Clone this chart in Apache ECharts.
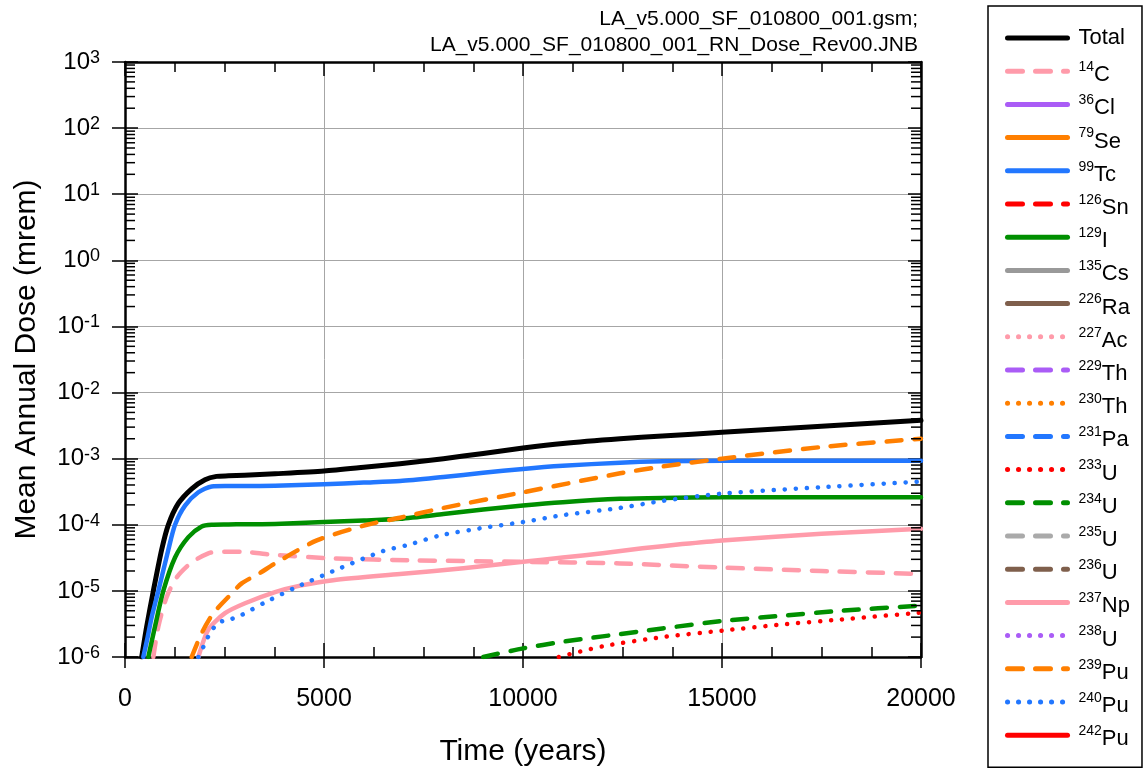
<!DOCTYPE html>
<html>
<head>
<meta charset="utf-8">
<script src="https://cdn.jsdelivr.net/npm/echarts@6/dist/echarts.min.js"></script>
<style>
html, body { margin: 0; padding: 0; background: #fff; }
#chart { width: 1143px; height: 771px; }
</style>
</head>
<body>
<div id="chart"></div>
<script>
// values: time (years) and mean annual dose (mrem)
var totalT = [420, 545, 712, 921, 1089, 1340, 1675, 2010, 2300, 2600, 3000, 3770, 5000, 6000, 6910, 8000, 9000, 10000, 11000, 12440, 13500, 15000, 17500, 20000];
var totalV = [1e-6, 2.9e-6, 1e-5, 4.2e-5, 1e-4, 2.1e-4, 3.5e-4, 4.8e-4, 5.4e-4, 5.5e-4, 5.6e-4, 5.9e-4, 6.5e-4, 7.4e-4, 8.4e-4, 1e-3, 1.2e-3, 1.45e-3, 1.7e-3, 2e-3, 2.2e-3, 2.5e-3, 3.1e-3, 3.8e-3];
var c14T = [712, 838, 1047, 1298, 1675, 2094, 2345, 2930, 3770, 5230, 7250, 10000, 12440, 15000, 17500, 20000];
var c14V = [1e-6, 2.9e-6, 8.1e-6, 1.6e-5, 2.7e-5, 3.7e-5, 3.9e-5, 3.9e-5, 3.5e-5, 3.1e-5, 2.9e-5, 2.75e-5, 2.6e-5, 2.25e-5, 2e-5, 1.8e-5];
var tc99T = [460, 570, 670, 838, 1089, 1257, 1508, 1843, 2178, 2513, 3000, 3770, 5000, 6000, 6910, 8000, 9000, 10000, 11000, 12440, 13500, 15000, 17500, 20000];
var tc99V = [1e-6, 2e-6, 4e-6, 1e-5, 4.2e-5, 1e-4, 1.95e-4, 3.1e-4, 3.8e-4, 3.85e-4, 3.85e-4, 3.9e-4, 4.1e-4, 4.35e-4, 4.6e-4, 5.3e-4, 6.1e-4, 7e-4, 7.8e-4, 8.7e-4, 9.1e-4, 9.3e-4, 9.3e-4, 9.3e-4];
var i129T = [586, 754, 963, 1257, 1592, 1927, 2178, 2600, 3000, 3770, 5000, 6000, 6910, 8000, 9000, 10000, 11000, 12440, 13500, 15000, 17500, 20000];
var i129V = [1e-6, 2.9e-6, 1e-5, 3.2e-5, 6.5e-5, 9.4e-5, 1e-4, 1.01e-4, 1.02e-4, 1.03e-4, 1.1e-4, 1.16e-4, 1.23e-4, 1.45e-4, 1.7e-4, 1.96e-4, 2.2e-4, 2.47e-4, 2.55e-4, 2.6e-4, 2.6e-4, 2.6e-4];
var u233T = [10900, 12000, 13500, 15000, 16500, 18000, 20000];
var u233V = [1e-6, 1.45e-6, 2e-6, 2.5e-6, 3.1e-6, 3.7e-6, 4.7e-6];
var u234T = [9000, 10000, 11000, 12000, 13500, 15000, 16500, 18000, 20000];
var u234V = [1e-6, 1.35e-6, 1.7e-6, 2.05e-6, 2.7e-6, 3.5e-6, 4.2e-6, 5e-6, 6e-6];
var np237T = [1843, 2094, 2513, 3016, 3770, 4400, 5230, 6910, 8500, 10000, 11000, 12000, 13000, 14000, 15000, 17500, 20000];
var np237V = [1e-6, 2.6e-6, 4.6e-6, 6.5e-6, 9.6e-6, 1.2e-5, 1.45e-5, 1.8e-5, 2.2e-5, 2.75e-5, 3.2e-5, 3.7e-5, 4.4e-5, 5.1e-5, 5.8e-5, 7.3e-5, 8.7e-5];
var pu239T = [1675, 1927, 2220, 2597, 2932, 3351, 3770, 4820, 6080, 6910, 8000, 10000, 12440, 13500, 15000, 17500, 20000];
var pu239V = [1e-6, 2.3e-6, 4.6e-6, 8.1e-6, 1.3e-5, 1.8e-5, 2.6e-5, 5.8e-5, 1e-4, 1.28e-4, 1.8e-4, 3.1e-4, 6e-4, 7.6e-4, 1e-3, 1.5e-3, 2e-3];
var pu240T = [1843, 2010, 2136, 2345, 2639, 2890, 3183, 3476, 4320, 5400, 6480, 7080, 7920, 9000, 10000, 11000, 12440, 13500, 15000, 17500, 20000];
var pu240V = [1e-6, 1.6e-6, 2.3e-6, 3.3e-6, 3.7e-6, 4.2e-6, 5.2e-6, 6.5e-6, 1.15e-5, 2.2e-5, 4e-5, 4.9e-5, 6.9e-5, 9e-5, 1.1e-4, 1.4e-4, 1.8e-4, 2.3e-4, 2.96e-4, 3.7e-4, 4.5e-4];
var none = [];

var seriesNames = ['Total', '14C', '36Cl', '79Se', '99Tc', '126Sn', '129I', '135Cs', '226Ra', '227Ac', '229Th', '230Th', '231Pa', '233U', '234U', '235U', '236U', '237Np', '238U', '239Pu', '240Pu', '242Pu'];
var seriesColors = ['#000000', '#ff9baa', '#aa5cf6', '#ff7f00', '#2277ff', '#ff0000', '#008f00', '#999999', '#7f5f4c', '#ff9baa', '#aa5cf6', '#ff7f00', '#2277ff', '#ff0000', '#008f00', '#aaaaaa', '#7f5f4c', '#ff9baa', '#aa5cf6', '#ff7f00', '#2277ff', '#ff0000'];
var seriesDash = ['solid', 'dash', 'solid', 'solid', 'solid', 'dash', 'solid', 'solid', 'solid', 'dot', 'dash', 'dot', 'dash', 'dot', 'dash', 'dash', 'dash', 'solid', 'dot', 'dash', 'dot', 'solid'];
var seriesT = [totalT, c14T, none, none, tc99T, none, i129T, none, none, none, none, none, none, u233T, u234T, none, none, np237T, none, pu239T, pu240T, none];
var seriesV = [totalV, c14V, none, none, tc99V, none, i129V, none, none, none, none, none, none, u233V, u234V, none, none, np237V, none, pu239V, pu240V, none];

var FONT = 'Liberation Sans, Arial, sans-serif';
var dashTypes = { solid: 'solid', dash: [15, 13], dot: [0.1, 10.9] };

// log minor tick positions (2..9 of every decade)
var yMinor = [];
for (var e = -6; e < 3; e++) {
  for (var m = 2; m <= 9; m++) yMinor.push([0, m * Math.pow(10, e)]);
}

var series = seriesNames.map(function (name, i) {
  var t = seriesT[i], v = seriesV[i];
  return {
    name: name,
    type: 'line',
    symbol: 'none',
    showSymbol: false,
    smooth: 0.25,
    xAxisIndex: 0,
    yAxisIndex: 0,
    itemStyle: { color: 'rgba(0,0,0,0)' },
    lineStyle: {
      color: seriesColors[i],
      width: i === 0 ? 5 : 4.5,
      type: dashTypes[seriesDash[i]],
      cap: 'round',
      join: 'round'
    },
    data: t.map(function (x, k) { return [x, v[k]]; })
  };
});

series.push({
  type: 'custom',
  name: 'minorTicks',
  silent: true,
  xAxisIndex: 0,
  yAxisIndex: 0,
  z: 5,
  data: yMinor,
  renderItem: function (params, api) {
    var l = api.coord([0, api.value(1)]);
    var r = api.coord([20000, api.value(1)]);
    var st = { stroke: '#000', lineWidth: 1.5 };
    return {
      type: 'group',
      children: [
        { type: 'line', shape: { x1: l[0], y1: l[1], x2: l[0] + 10, y2: l[1] }, style: st },
        { type: 'line', shape: { x1: r[0], y1: r[1], x2: r[0] - 10, y2: r[1] }, style: st }
      ]
    };
  }
});

var axisLineStyle = { color: '#000', width: 2.5 };
var tickStyle = { color: '#000', width: 1.5 };

var option = {
  backgroundColor: '#fff',
  animation: false,
  textStyle: { fontFamily: FONT },
  grid: { left: 125, right: 222, top: 62, bottom: 114, outerBoundsMode: 'none' },
  graphic: [{
    type: 'text', right: 225, top: 9,
    style: { text: 'LA_v5.000_SF_010800_001.gsm;', font: '21px ' + FONT, fill: '#000' }
  }, {
    type: 'text', right: 225, top: 35,
    style: { text: 'LA_v5.000_SF_010800_001_RN_Dose_Rev00.JNB', font: '21px ' + FONT, fill: '#000' }
  }],
  legend: {
    orient: 'vertical',
    left: 988,
    top: 6,
    padding: [17, 12, 17, 17],
    itemGap: 3.2,
    itemWidth: 60,
    itemHeight: 14,
    borderColor: '#000',
    borderWidth: 1.5,
    borderRadius: 0,
    backgroundColor: '#fff',
    selectedMode: false,
    data: seriesNames,
    lineStyle: { width: 5 },
    textStyle: {
      color: '#000',
      fontFamily: FONT,
      padding: [0, 0, 0, 6],
      rich: {
        tot: { fontSize: 22, lineHeight: 22, padding: [4, 0, 4, 0], fontFamily: FONT },
        sup: { fontSize: 14, lineHeight: 21, verticalAlign: 'top', fontFamily: FONT },
        el: { fontSize: 22, lineHeight: 22, padding: [8, 0, 0, 0], fontFamily: FONT }
      }
    },
    formatter: function (name) {
      var m = /^(\d+)(.+)$/.exec(name);
      if (!m) return '{tot|' + name + '}';
      return '{sup|' + m[1] + '}{el|' + m[2] + '}';
    }
  },
  xAxis: [{
    type: 'value', position: 'bottom', min: 0, max: 20000, interval: 5000,
    axisLine: { show: true, onZero: false, lineStyle: axisLineStyle },
    axisTick: { show: true, inside: false, length: 11, lineStyle: tickStyle },
    axisLabel: {
      margin: 30, fontSize: 25, color: '#000', fontFamily: FONT,
      formatter: function (v) { return String(v); }
    },
    splitLine: { show: true, lineStyle: { color: '#a6a6a6', width: 1 } },
    name: 'Time (years)', nameLocation: 'middle', nameGap: 80,
    nameTextStyle: { fontSize: 30, color: '#000', fontFamily: FONT }
  }, {
    type: 'value', position: 'bottom', min: 0, max: 20000, interval: 5000,
    axisLine: { show: false },
    axisTick: { show: true, inside: true, length: 14, lineStyle: tickStyle },
    minorTick: { show: true, splitNumber: 4, length: 10, lineStyle: tickStyle },
    axisLabel: { show: false },
    splitLine: { show: false }
  }, {
    type: 'value', position: 'top', min: 0, max: 20000, interval: 5000,
    axisLine: { show: true, onZero: false, lineStyle: axisLineStyle },
    axisTick: { show: true, inside: true, length: 14, lineStyle: tickStyle },
    minorTick: { show: true, splitNumber: 4, length: 10, lineStyle: tickStyle },
    axisLabel: { show: false },
    splitLine: { show: false }
  }],
  yAxis: [{
    type: 'log', logBase: 10, position: 'left', min: 1e-6, max: 1e3, splitNumber: 9,
    axisLine: { show: true, onZero: false, lineStyle: axisLineStyle },
    axisTick: { show: true, inside: false, length: 13, lineStyle: tickStyle },
    axisLabel: {
      margin: 25,
      color: '#000',
      formatter: function (v) {
        return '{m|10}{e|' + Math.round(Math.log10(v)) + '}';
      },
      rich: {
        m: { fontSize: 24, lineHeight: 26, fontFamily: FONT },
        e: { fontSize: 18, lineHeight: 20, verticalAlign: 'top', fontFamily: FONT }
      }
    },
    splitLine: { show: true, lineStyle: { color: '#a6a6a6', width: 1 } },
    name: 'Mean Annual Dose (mrem)', nameLocation: 'middle', nameGap: 83,
    nameTextStyle: { fontSize: 30, color: '#000', fontFamily: FONT }
  }, {
    type: 'log', logBase: 10, position: 'left', min: 1e-6, max: 1e3, splitNumber: 9,
    axisLine: { show: false },
    axisTick: { show: true, inside: true, length: 13, lineStyle: tickStyle },
    axisLabel: { show: false },
    splitLine: { show: false }
  }, {
    type: 'log', logBase: 10, position: 'right', min: 1e-6, max: 1e3, splitNumber: 9,
    axisLine: { show: true, onZero: false, lineStyle: axisLineStyle },
    axisTick: { show: true, inside: true, length: 13, lineStyle: tickStyle },
    axisLabel: { show: false },
    splitLine: { show: false }
  }],
  series: series
};

var chart = echarts.init(document.getElementById('chart'), null, { renderer: 'canvas' });
chart.setOption(option);
</script>
</body>
</html>
